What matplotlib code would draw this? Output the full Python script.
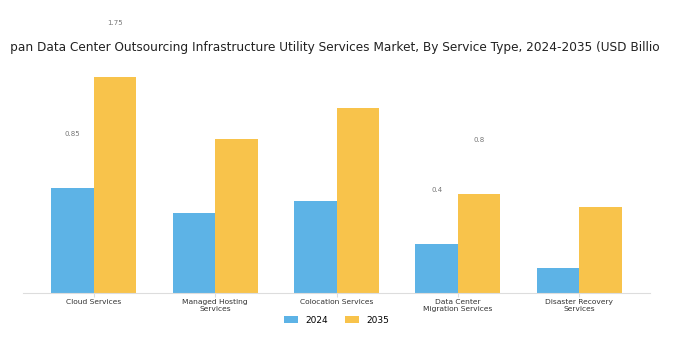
import numpy as np
import matplotlib
matplotlib.use('Agg')
import matplotlib.pyplot as plt
from matplotlib.transforms import Bbox

plt.rc('font', family='DejaVu Sans')

categories = ['Cloud Services', 'Managed Hosting\nServices', 'Colocation Services',
              'Data Center\nMigration Services', 'Disaster Recovery\nServices']
values_2024 = [0.85, 0.65, 0.75, 0.4, 0.2]
values_2035 = [1.75, 1.25, 1.5, 0.8, 0.7]
# only some bars carry a value label in the original
labelled = [0, 3]

blue = '#5DB3E6'
yellow = '#F8C34B'

fig = plt.figure(figsize=(6.73, 3.49), dpi=100)
ax = fig.add_axes([0.034, 0.1605, 0.932, 0.65])

x = np.arange(len(categories))
w = 0.35
b1 = ax.bar(x - w/2, values_2024, w, color=blue, label='2024')
b2 = ax.bar(x + w/2, values_2035, w, color=yellow, label='2035')

for i in labelled:
    for bars, vals in ((b1, values_2024), (b2, values_2035)):
        r = bars[i]
        ax.annotate(f'{vals[i]:g}', (r.get_x() + r.get_width()/2, r.get_height()),
                    xytext=(0, 39), textcoords='offset points', ha='center', va='center',
                    fontsize=5, color='#777777', annotation_clip=False)

ax.set_ylim(0, 1.84)
ax.set_xticks(x)
ax.set_xticklabels(categories, fontsize=5.4, color='#333333')
ax.tick_params(axis='x', length=3, color='#dddddd', pad=1)
ax.set_yticks([])
for s in ['top', 'right', 'left']:
    ax.spines[s].set_visible(False)
ax.spines['bottom'].set_color('#dddddd')

title = fig.text(0.5, 0.865,
                 'Japan Data Center Outsourcing Infrastructure Utility Services Market, By Service Type, 2024-2035 (USD Billion)',
                 ha='center', va='center', fontsize=8.75, color='#222222')
# the original title is cut off on both sides
title.set_clip_box(Bbox.from_extents(11, 0, 660, 349))
title.set_clip_on(True)

ax.legend(loc='center', bbox_to_anchor=(0.5, -0.12), ncol=2, frameon=False,
          fontsize=6.5, handlelength=1.6, handleheight=0.7, columnspacing=1.8)

fig.savefig('out.png', dpi=100)
